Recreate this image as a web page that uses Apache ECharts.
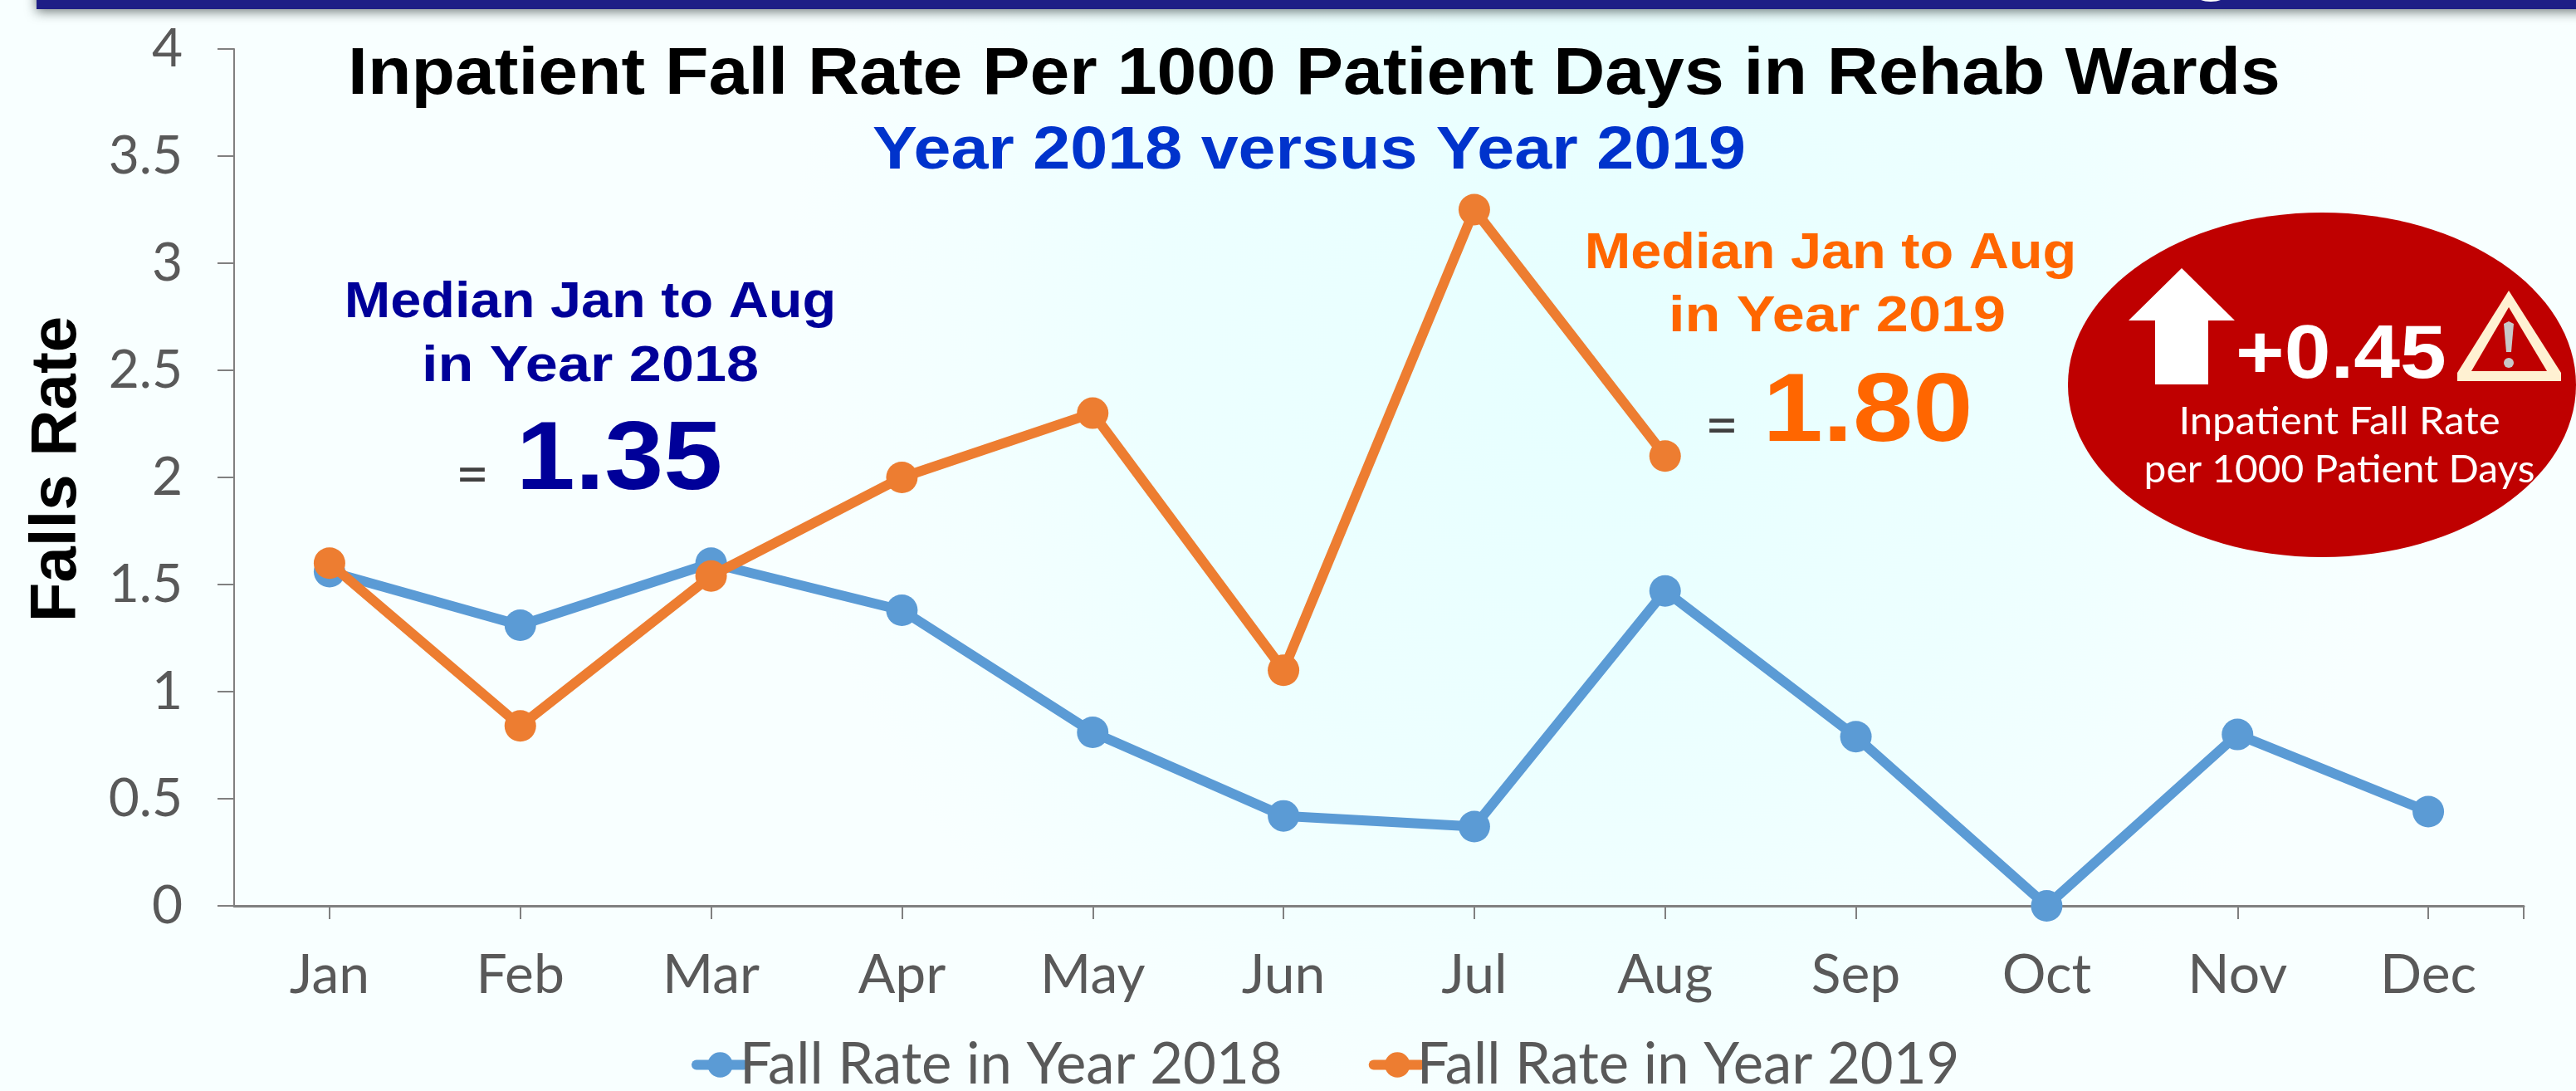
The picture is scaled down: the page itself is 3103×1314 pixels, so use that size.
<!DOCTYPE html>
<html><head><meta charset="utf-8">
<style>html,body{margin:0;padding:0;background:#f0ffff}#c{width:3103px;height:1314px}</style>
<script src="https://cdn.jsdelivr.net/npm/echarts@6/dist/echarts.min.js"></script>
</head><body><div id="c"></div>
<script>
const months = ['Jan','Feb','Mar','Apr','May','Jun','Jul','Aug','Sep','Oct','Nov','Dec'];
const rate2018 = [1.56,1.31,1.60,1.38,0.81,0.42,0.37,1.47,0.79,0,0.80,0.44];
const rate2019 = [1.60,0.84,1.54,2.00,2.30,1.10,3.25,2.10];
const seriesNames = ['Fall Rate in Year 2018','Fall Rate in Year 2019'];
const titleText = 'Inpatient Fall Rate Per 1000 Patient Days in Rehab Wards';
const subtitleText = 'Year 2018 versus Year 2019';
const yAxisName = 'Falls Rate';
const median2018 = ['Median Jan to Aug','in Year 2018','1.35'];
const median2019 = ['Median Jan to Aug','in Year 2019','1.80'];
const badge = ['+0.45','Inpatient Fall Rate','per 1000 Patient Days'];

const BOLD = '"Liberation Sans"';
function txt(text,x,y,size,fill,opt){
  opt=opt||{};
  return {type:'text',x:x,y:y,scaleX:opt.sx||1,scaleY:opt.sy||1,z:opt.z||5,silent:true,
    style:{text:text,fill:fill,fontFamily:opt.family||BOLD,fontWeight:opt.weight||'bold',fontSize:size,
      align:opt.align||'center',verticalAlign:'middle'}};
}
const chart = echarts.init(document.getElementById('c'),null,{renderer:'canvas',width:3103,height:1314});
chart.setOption({
  animation:false,
  backgroundColor:{type:'radial',x:0.62,y:0.32,r:0.75,colorStops:[{offset:0,color:'#e6ffff'},{offset:0.55,color:'#edffff'},{offset:1,color:'#f8ffff'}]},
  grid:{left:282,top:59,width:2758,height:1032,containLabel:false,outerBoundsMode:'none'},
  legend:{left:828,top:1243,itemWidth:57,itemHeight:38,itemGap:104,data:seriesNames,
    lineStyle:{width:12},
    textStyle:{fontFamily:'Lato',fontSize:68.8,color:'#595959',padding:[0,0,0,-10]}},
  xAxis:{type:'category',data:months,boundaryGap:true,
    axisLine:{show:true,onZero:false,lineStyle:{color:'#808080',width:3}},
    axisTick:{show:true,alignWithLabel:true,length:16,lineStyle:{color:'#808080',width:2}},
    axisLabel:{interval:0,margin:51,fontFamily:'Lato',fontSize:66,color:'#595959'},splitLine:{show:false}},
  yAxis:{type:'value',min:0,max:4,interval:0.5,
    name:yAxisName,nameLocation:'middle',nameGap:174,nameRotate:90,
    nameTextStyle:{fontFamily:BOLD,fontWeight:'bold',fontSize:78,color:'#000000',padding:[0,0,0,20]},
    axisLine:{show:true,lineStyle:{color:'#808080',width:2}},
    axisTick:{show:true,length:20,lineStyle:{color:'#808080',width:2}},
    axisLabel:{margin:62,fontFamily:'Lato',fontSize:64,color:'#595959'},splitLine:{show:false}},
  series:[
    {name:seriesNames[0],type:'line',data:rate2018,symbol:'circle',symbolSize:38,clip:false,
     lineStyle:{color:'#5b9bd5',width:12,cap:'round'},itemStyle:{color:'#5b9bd5'},emphasis:{disabled:true},z:2},
    {name:seriesNames[1],type:'line',data:rate2019,symbol:'circle',symbolSize:38,clip:false,
     lineStyle:{color:'#ed7d31',width:12,cap:'round'},itemStyle:{color:'#ed7d31'},emphasis:{disabled:true},z:3}
  ],
  graphic:{elements:[
    // top banner
    {type:'rect',shape:{x:44,y:-20,width:3100,height:31},z:1,silent:true,
      style:{fill:'#1e1e86',shadowBlur:14,shadowColor:'rgba(40,50,50,0.65)',shadowOffsetY:3}},
    {type:'ellipse',shape:{cx:2663,cy:-4,rx:16,ry:6},z:2,silent:true,style:{fill:'#ffffff'}},
    // end tick of the category axis
    {type:'line',shape:{x1:3040,y1:1091,x2:3040,y2:1107},z:2,silent:true,style:{stroke:'#808080',lineWidth:2}},
    // title
    txt(titleText,1583,91,79,'#000000',{sx:1.088}),
    txt(subtitleText,1577,183,72,'#0033cc',{sx:1.123}),
    // 2018 median
    txt(median2018[0],711,365,62,'#000099',{sx:1.075}),
    txt(median2018[1],711,442,62,'#000099',{sx:1.133}),
    txt(median2018[2],746,557,112,'#000099',{sx:1.14,sy:1.05}),
    txt('=',569,573,69,'#404040',{weight:'normal',family:'Lato'}),
    // 2019 median
    txt(median2019[0],2205,306,62,'#ff6600',{sx:1.075}),
    txt(median2019[1],2213,382,62,'#ff6600',{sx:1.133}),
    txt(median2019[2],2250,499,112,'#ff6600',{sx:1.16,sy:1.05}),
    txt('=',2074,514,69,'#404040',{weight:'normal',family:'Lato'}),
    // badge
    {type:'ellipse',shape:{cx:2797,cy:463.5,rx:306,ry:207.5},z:3,silent:true,style:{fill:'#bf0000'}},
    {type:'polygon',shape:{points:[[2628,323],[2692,386],[2660,386],[2660,463],[2596,463],[2596,386],[2564,386]]},z:4,silent:true,style:{fill:'#ffffff'}},
    txt(badge[0],2820,430,85,'#ffffff',{sx:1.18,sy:1.06}),
    txt(badge[1],2818,508,46,'#ffffff',{weight:'normal',family:'Lato',sx:1.065}),
    txt(badge[2],2818,566,46,'#ffffff',{weight:'normal',family:'Lato',sx:1.04}),
    {type:'polygon',shape:{points:[[3022,350],[3085,449],[3085,459],[2960,459],[2960,449]]},z:4,silent:true,style:{fill:'#fff1d2'}},
    {type:'polygon',shape:{points:[[3022,370],[3068,447],[2977,447]]},z:4,silent:true,style:{fill:'#bf0000'}},
    {type:'polygon',shape:{points:[[3016,390],[3022,387],[3028,390],[3025,424],[3019,424]]},z:5,silent:true,style:{fill:'#c8c8c8'}},
    {type:'circle',shape:{cx:3022,cy:437,r:6},z:5,silent:true,style:{fill:'#c8c8c8'}}
  ]}
});
</script></body></html>
